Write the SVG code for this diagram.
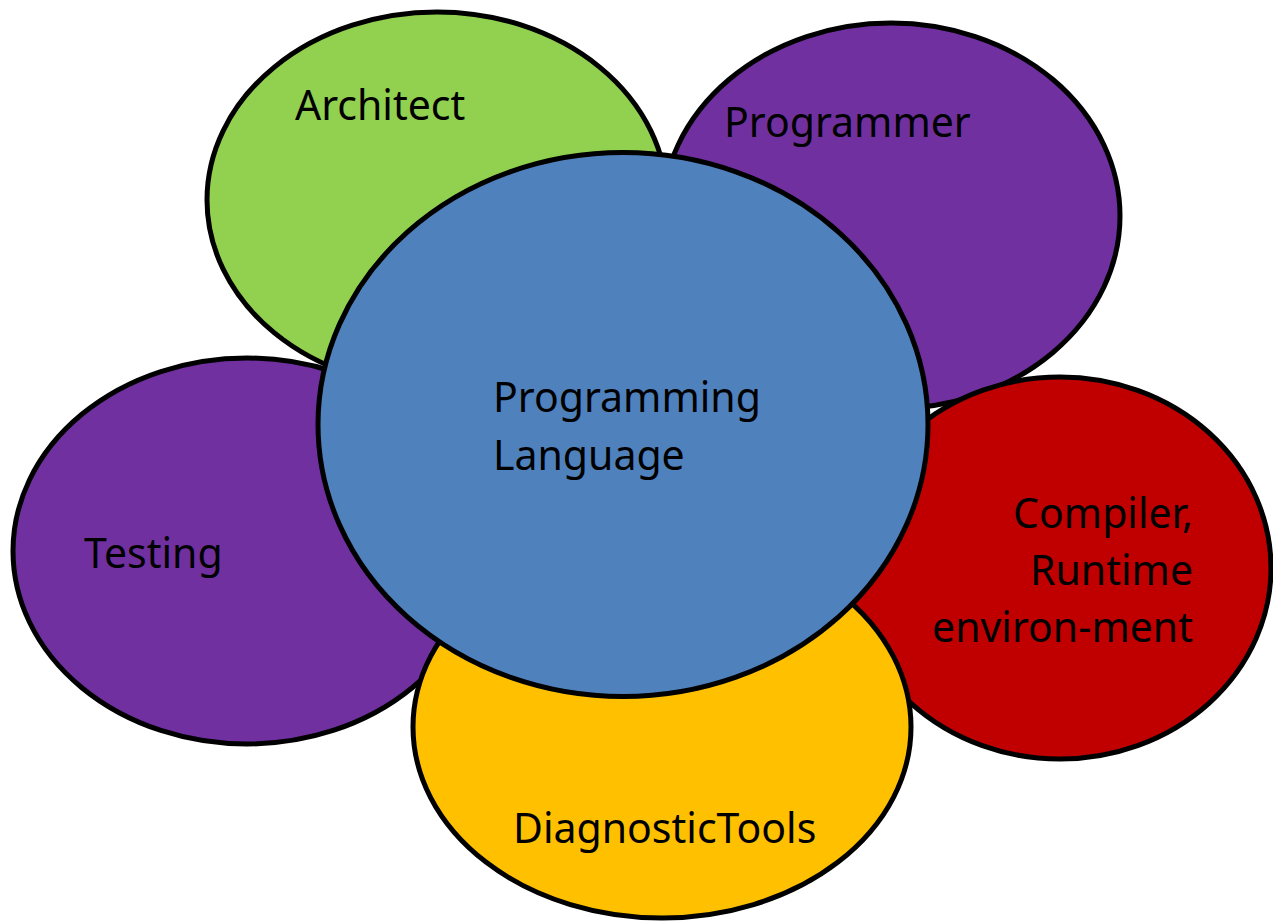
<svg xmlns="http://www.w3.org/2000/svg" width="1273" height="921" viewBox="0 0 1273 921">
<style>
.e{stroke:#000;stroke-width:5}
.t{font-family:"Noto Sans","Open Sans",sans-serif;font-size:41px;fill:#000}
</style>
<rect width="1273" height="921" fill="#fff"/>
<g id="architect"><ellipse class="e" cx="437" cy="200" rx="230" ry="188" fill="#92D050"/><text class="t" x="295" y="120">Architect</text></g>
<g id="programmer"><ellipse class="e" cx="891" cy="216" rx="229" ry="193" fill="#7030A0"/><text class="t" x="724" y="137">Programmer</text></g>
<g id="testing"><ellipse class="e" cx="247" cy="551" rx="234" ry="193" fill="#7030A0"/><text class="t" x="84" y="568">Testing</text></g>
<g id="compiler"><ellipse class="e" cx="1060" cy="568" rx="211" ry="191" fill="#C00000"/><text class="t" text-anchor="end"><tspan x="1193" y="528">Compiler,</tspan><tspan x="1193" y="585">Runtime</tspan><tspan x="1193" y="642">environ-ment</tspan></text></g>
<g id="diagnostic"><ellipse class="e" cx="662" cy="727" rx="249" ry="191" fill="#FFC000"/><text class="t" x="513" y="843">DiagnosticTools</text></g>
<g id="language"><ellipse class="e" cx="623" cy="424.5" rx="305" ry="272" fill="#4F81BD"/><text class="t"><tspan x="493" y="412">Programming</tspan><tspan x="493" y="470">Language</tspan></text></g>
<g id="connectors"></g>
</svg>
